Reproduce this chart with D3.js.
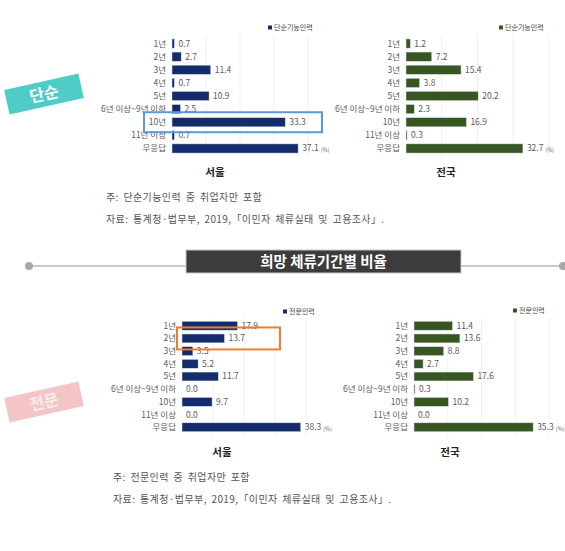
<!DOCTYPE html>
<html>
<head>
<meta charset="utf-8">
<script src="https://cdn.jsdelivr.net/npm/d3@7"></script>
<style>
  body { margin: 0; background: #fff; }
  svg { display: block; font-family: "Noto Sans CJK KR", "Noto Sans", sans-serif; }
</style>
</head>
<body>
<div id="chart"></div>
<script>
// categories and values
const categories = ["1년", "2년", "3년", "4년", "5년", "6년 이상~9년 이하", "10년", "11년 이상", "무응답"];
const simpleSeoul = [0.7, 2.7, 11.4, 0.7, 10.9, 2.5, 33.3, 0.7, 37.1];
const simpleNation = [1.2, 7.2, 15.4, 3.8, 20.2, 2.3, 16.9, 0.3, 32.7];
const expertSeoul = [17.9, 13.7, 3.5, 5.2, 11.7, 0.0, 9.7, 0.0, 38.3];
const expertNation = [11.4, 13.6, 8.8, 2.7, 17.6, 0.3, 10.2, 0.0, 35.3];
const gridTicks = [10, 20, 30, 40];

const navy = "#142c6b";
const green = "#375622";
const W = 565, H = 551;

const svg = d3.select("#chart").append("svg")
    .attr("width", W)
    .attr("height", H);

function panel(opt) {
    const x = d3.scaleLinear().domain([0, 40]).range([opt.x0, opt.x1]);
    const y = d3.scaleBand().domain(categories).range([opt.y0, opt.y1]).padding(0.3);
    const g = svg.append("g");

    // grid
    g.selectAll(".grid")
        .data(gridTicks)
        .enter().append("line")
        .attr("x1", d => x(d)).attr("x2", d => x(d))
        .attr("y1", opt.y0).attr("y2", opt.y1)
        .attr("stroke", "#ececec")
        .attr("stroke-width", 0.8);

    // bars
    g.selectAll(".bar")
        .data(opt.values)
        .enter().append("rect")
        .attr("x", x(0))
        .attr("y", (d, i) => y(categories[i]))
        .attr("width", d => x(d) - x(0))
        .attr("height", y.bandwidth())
        .attr("fill", opt.color)
        .attr("stroke", d => d > 0 ? "#d8dde8" : "none")
        .attr("stroke-width", 0.5);

    // category labels
    g.selectAll(".cat")
        .data(categories)
        .enter().append("text")
        .attr("x", x(0) - 6)
        .attr("y", d => y(d) + y.bandwidth() / 2)
        .attr("dy", "0.35em")
        .attr("text-anchor", "end")
        .attr("font-size", 8.5)
        .attr("fill", "#5a5a5a")
        .text(d => d);

    // value labels
    const vals = g.selectAll(".val")
        .data(opt.values)
        .enter().append("text")
        .attr("x", d => x(d) + 4)
        .attr("y", (d, i) => y(categories[i]) + y.bandwidth() / 2)
        .attr("dy", "0.35em")
        .attr("font-size", 8.5)
        .attr("fill", "#5a5a5a")
        .text(d => d.toFixed(1));

    // "(%)" after last value
    const lastNode = vals.nodes()[vals.size() - 1];
    const last = opt.values[opt.values.length - 1];
    g.append("text")
        .attr("x", x(last) + 4 + lastNode.getComputedTextLength() + 2)
        .attr("y", y(categories[8]) + y.bandwidth() / 2 + 4)
        .attr("font-size", 5.5)
        .attr("fill", "#666")
        .text("(%)");

    // legend
    const lg = g.append("g").attr("transform", `translate(${opt.legendX},${opt.legendY})`);
    lg.append("rect").attr("x", 0).attr("y", -2.5).attr("width", 4).attr("height", 4).attr("fill", opt.color);
    lg.append("text").attr("x", 6).attr("y", 0).attr("dy", "0.35em")
        .attr("font-size", 7).attr("fill", "#444").text(opt.legend);

    // region title
    svg.append("text")
        .attr("x", opt.titleX)
        .attr("y", opt.titleY)
        .attr("text-anchor", "middle")
        .attr("font-size", 10.5)
        .attr("font-weight", "bold")
        .attr("fill", "#222")
        .text(opt.title);

    return { x, y };
}

const tl = panel({ values: simpleSeoul, color: navy, x0: 172, x1: 308, y0: 35, y1: 157,
    legend: "단순기능인력", legendX: 268, legendY: 28, title: "서울", titleX: 215, titleY: 176 });
panel({ values: simpleNation, color: green, x0: 406, x1: 549, y0: 35, y1: 157,
    legend: "단순기능인력", legendX: 499, legendY: 28, title: "전국", titleX: 446, titleY: 176 });
const bl = panel({ values: expertSeoul, color: navy, x0: 182, x1: 306, y0: 317.5, y1: 435.5,
    legend: "전문인력", legendX: 283, legendY: 312, title: "서울", titleX: 222, titleY: 456 });
panel({ values: expertNation, color: green, x0: 414, x1: 549, y0: 317.5, y1: 435.5,
    legend: "전문인력", legendX: 513, legendY: 311, title: "전국", titleX: 450, titleY: 456 });

// highlight boxes
const hy = tl.y("10년") + tl.y.bandwidth() / 2;
svg.append("rect")
    .attr("x", 144).attr("y", hy - 10)
    .attr("width", 178).attr("height", 20)
    .attr("fill", "none").attr("stroke", "#5b9bd5").attr("stroke-width", 2);
const oy = bl.y("2년") + bl.y.bandwidth() / 2;
svg.append("rect")
    .attr("x", 177).attr("y", oy - 11)
    .attr("width", 103).attr("height", 22)
    .attr("fill", "none").attr("stroke", "#ed7d31").attr("stroke-width", 2);

// badges
function badge(cx, cy, fill, label, textFill) {
    const b = svg.append("g").attr("transform", `translate(${cx},${cy}) rotate(-12.5)`);
    b.append("rect").attr("x", -38).attr("y", -12.5).attr("width", 76).attr("height", 25).attr("fill", fill);
    b.append("text").attr("x", 0).attr("y", 0).attr("dy", "0.36em")
        .attr("text-anchor", "middle").attr("font-size", 16).attr("font-weight", "bold")
        .attr("fill", textFill).text(label);
}
badge(44, 94, "#4fcbc8", "단순", "#fff");
badge(44, 402, "#f4c5c5", "전문", "#fcecec");

// notes
const notesTop = ["주: 단순기능인력 중 취업자만 포함", "자료: 통계청·법무부, 2019,「이민자 체류실태 및 고용조사」."];
const notesBottom = ["주: 전문인력 중 취업자만 포함", "자료: 통계청·법무부, 2019,「이민자 체류실태 및 고용조사」."];
function notes(lines, x, y0) {
    svg.selectAll(null).data(lines).enter().append("text")
        .attr("x", x).attr("y", (d, i) => y0 + i * 22)
        .attr("font-size", 10).attr("fill", "#555")
        .attr("letter-spacing", 0.4).attr("word-spacing", 2)
        .text(d => d);
}
notes(notesTop, 106, 201);
notes(notesBottom, 113, 481);

// section banner
svg.append("line").attr("x1", 29).attr("x2", 563).attr("y1", 266).attr("y2", 266)
    .attr("stroke", "#b8b8b8").attr("stroke-width", 1.5);
svg.selectAll(".dot").data([29, 563]).enter().append("circle")
    .attr("cx", d => d).attr("cy", 266).attr("r", 4).attr("fill", "#a8a8a8");
svg.append("rect").attr("x", 186).attr("y", 250).attr("width", 275).attr("height", 23)
    .attr("fill", "#3c3c3c").attr("stroke", "#c8c8c8").attr("stroke-width", 1);
svg.append("text").attr("x", 323.5).attr("y", 261.5).attr("dy", "0.36em")
    .attr("text-anchor", "middle").attr("font-size", 14.5).attr("font-weight", "bold")
    .attr("fill", "#fff").text("희망 체류기간별 비율");
</script>
</body>
</html>
